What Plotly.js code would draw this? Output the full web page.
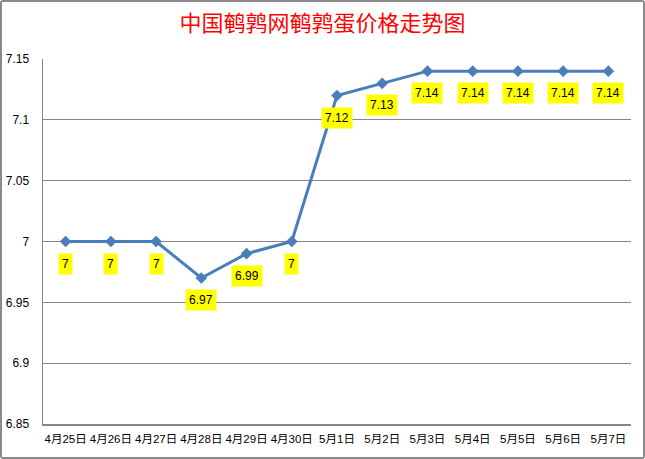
<!DOCTYPE html>
<html><head><meta charset="utf-8">
<script src="https://cdn.plot.ly/plotly-3.0.1.min.js"></script>
<style>
html,body{margin:0;padding:0;background:#fff;}
#wrap{position:absolute;left:0;top:0;width:641px;height:455px;border:2px solid #8a8a8a;border-radius:3px;background:#fff;}
#chart{width:641px;height:455px;}
</style></head><body>
<div id="wrap"><div id="chart"></div></div>
<script>
const dates = ['4月25日','4月26日','4月27日','4月28日','4月29日','4月30日','5月1日','5月2日','5月3日','5月4日','5月5日','5月6日','5月7日'];
const prices = [7, 7, 7, 6.97, 6.99, 7, 7.12, 7.13, 7.14, 7.14, 7.14, 7.14, 7.14];
const yTicks = [6.85, 6.9, 6.95, 7, 7.05, 7.1, 7.15];
const yTickText = ['6.85','6.9','6.95','7','7.05','7.1','7.15'];

const trace = {
  x: dates, y: prices, type: 'scatter', mode: 'lines+markers',
  line: {color: '#4A7EBB', width: 3},
  marker: {symbol: 'diamond', size: 9, color: '#4A7EBB'},
  hoverinfo: 'none'
};
const annotations = dates.map((d, i) => ({
  x: d, y: prices[i], xref: 'x', yref: 'y',
  text: String(prices[i]), showarrow: false, yshift: -22,
  bgcolor: '#FFFF00', borderpad: 3,
  font: {family: 'Liberation Sans, Arial, sans-serif', size: 12, color: '#000'}
}));
const layout = {
  width: 641, height: 455,
  margin: {l: 41, r: 12, t: 57, b: 33},
  paper_bgcolor: '#fff', plot_bgcolor: '#fff',
  title: {text: '中国鹌鹑网鹌鹑蛋价格走势图', x: 0.5, xanchor: 'center', y: 0.953, yanchor: 'middle',
    font: {family: 'Noto Sans CJK SC, sans-serif', size: 22, color: '#FF0000'}},
  showlegend: false,
  xaxis: {type: 'category', range: [-0.5, 12.5], showgrid: false, showline: true, linecolor: '#868686', linewidth: 1.5,
    ticks: '', tickangle: 0, ticklabelstandoff: 4, tickfont: {family: 'Liberation Sans, Noto Sans CJK SC, sans-serif', size: 11.5, color: '#000'}, fixedrange: true, zeroline: false},
  yaxis: {range: [6.85, 7.15], tickvals: yTicks, ticktext: yTickText, showgrid: true, gridcolor: '#868686', gridwidth: 1,
    showline: true, linecolor: '#868686', linewidth: 1.5, ticks: '', zeroline: false, ticklabelstandoff: 10,
    tickfont: {family: 'Liberation Sans, Arial, sans-serif', size: 12, color: '#000'}},
  annotations: annotations
};
Plotly.newPlot('chart', [trace], layout, {staticPlot: true, displayModeBar: false});
</script>
</body></html>
